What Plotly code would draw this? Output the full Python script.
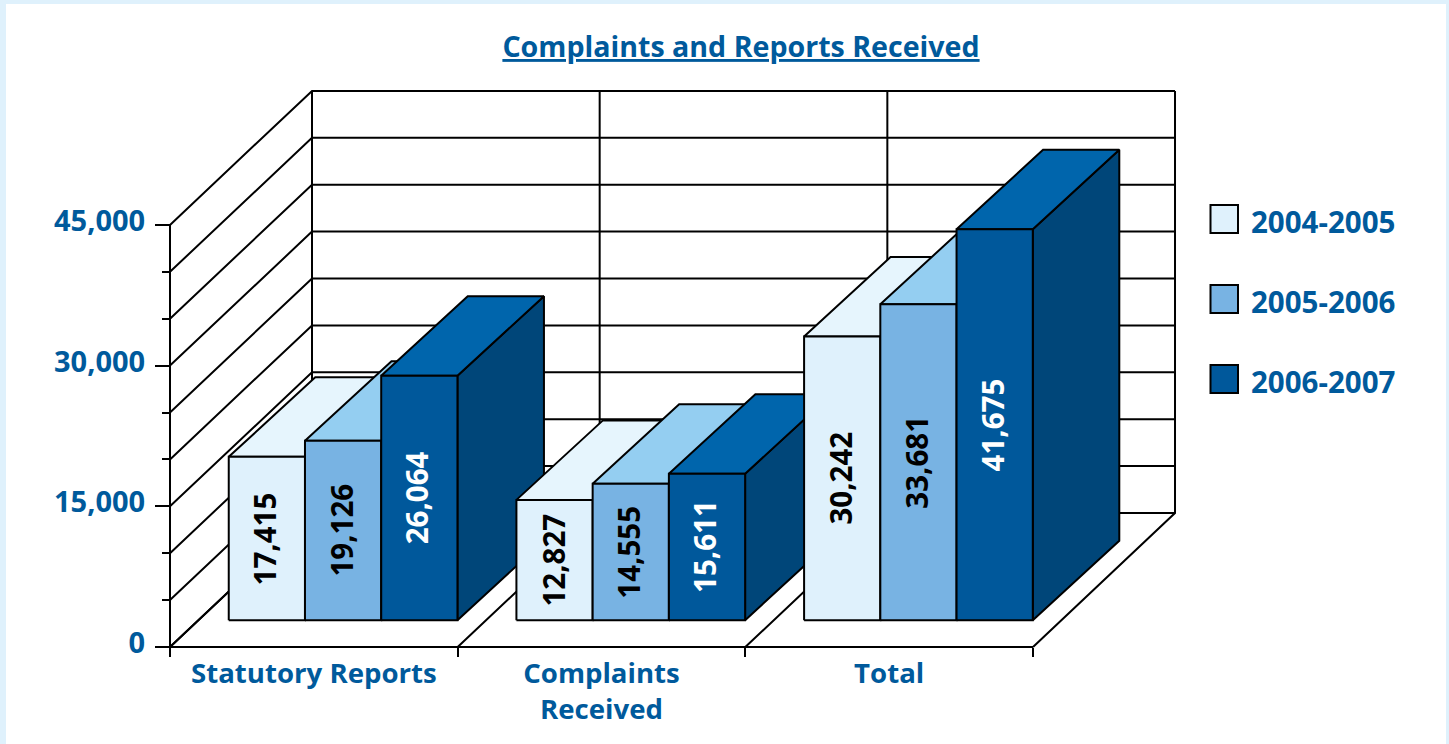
import plotly.graph_objects as go

CATEGORIES = ["Statutory Reports", "Complaints<br>Received", "Total"]
SERIES = ["2004-2005", "2005-2006", "2006-2007"]
V_2004 = [17415, 12827, 30242]
V_2005 = [19126, 14555, 33681]
V_2006 = [26064, 15611, 41675]
VALUES = [V_2004, V_2005, V_2006]
Y_MAJOR = [0, 15000, 30000, 45000]
Y_MINOR = [5000, 10000, 20000, 25000, 35000, 40000]

FRONT = ["#DFF1FC", "#78B3E3", "#00589B"]
TOP = ["#E6F5FD", "#94CEF1", "#0065AC"]
SIDE = ["#B4D6EE", "#4F8DC4", "#004679"]
LABEL = ["black", "black", "white"]
BLUE = "#005A9C"
FONT = "Open Sans"
W, H = 1449, 744
CAT_PX = 287.67
VAL_PX = 0.00938
DEPTH_X = 142 / CAT_PX
DEPTH_Y = 134 / VAL_PX
D0 = 0.2
BAR_DX = 86.5 / CAT_PX
BAR_DY = 79.5 / VAL_PX
BAR_W = 0.2650
BAR_GAP = 0.1055
ORIGIN_X, ORIGIN_Y = 170, 647


def proj(c, v, d=0.0):
    return c + d * DEPTH_X, v + d * DEPTH_Y


def front(c, v):
    return proj(c, v, D0)


def back(c, v):
    x, y = proj(c, v, D0)
    return x + BAR_DX, y + BAR_DY


def poly(points, fill, name, hover=None):
    xs, ys = zip(*points)
    return go.Scatter(x=list(xs) + [xs[0]], y=list(ys) + [ys[0]], mode="lines", fill="toself",
                      fillcolor=fill, line=dict(color="black", width=2), name=name,
                      showlegend=False, hoverinfo="text" if hover else "skip", text=hover)


fig = go.Figure()


def grid(points):
    xs, ys = zip(*(proj(*p) for p in points))
    fig.add_trace(go.Scatter(x=xs, y=ys, mode="lines", line=dict(color="black", width=2),
                             showlegend=False, hoverinfo="skip"))


levels = sorted(Y_MAJOR + Y_MINOR)
top_level = levels[-1]
for v in levels:
    grid([(0, v, 0), (0, v, 1), (len(CATEGORIES), v, 1)])
for c in range(len(CATEGORIES) + 1):
    grid([(c, 0, 0), (c, 0, 1), (c, top_level, 1)])
grid([(0, 0, 0), (0, top_level, 0)])
grid([(0, 0, 0), (len(CATEGORIES), 0, 0)])

annotations = []
for c in range(len(CATEGORIES)):
    for s in range(len(SERIES)):
        v = VALUES[s][c]
        x0 = c + BAR_GAP + s * BAR_W
        x1 = x0 + BAR_W
        hover = f"{CATEGORIES[c].replace('<br>', ' ')} {SERIES[s]}: {v:,}"
        fig.add_trace(poly([front(x1, 0), back(x1, 0), back(x1, v), front(x1, v)], SIDE[s], SERIES[s]))
        fig.add_trace(poly([front(x0, v), back(x0, v), back(x1, v), front(x1, v)], TOP[s], SERIES[s]))
        fig.add_trace(poly([front(x0, 0), front(x1, 0), front(x1, v), front(x0, v)], FRONT[s], SERIES[s], hover))
        ax, ay = front((x0 + x1) / 2, v / 2)
        annotations.append(dict(x=ax, y=ay, xref="x", yref="y", text=f"{v:,}", textangle=-90, xshift=-2,
                                showarrow=False, font=dict(family=FONT, size=29.5, color=LABEL[s], weight=700)))

shapes = [dict(type="rect", xref="paper", yref="paper", x0=6 / W, x1=1446 / W, y0=0, y1=1 - 4 / H,
               fillcolor="white", line_width=0, layer="below")]
for s, name in enumerate(SERIES):
    cy = 219 + 80 * s
    shapes.append(dict(type="rect", xref="paper", yref="paper", x0=1210.5 / W, x1=1238 / W,
                       y0=1 - (cy + 14) / H, y1=1 - (cy - 14) / H, fillcolor=FRONT[s],
                       line=dict(color="black", width=2)))
    annotations.append(dict(x=1249 / W, y=1 - (cy + 2) / H, xref="paper", yref="paper", xanchor="left",
                            yanchor="middle", text=name, showarrow=False,
                            font=dict(family=FONT, size=29.5, color=BLUE, weight=700)))

fig.update_layout(
    width=W, height=H, autosize=False, margin=dict(l=0, r=0, t=0, b=0, pad=0),
    paper_bgcolor="#DFF1FC", plot_bgcolor="rgba(0,0,0,0)", showlegend=False,
    font=dict(family=FONT, size=28, color=BLUE, weight=700),
    title=dict(text="<u>Complaints and Reports Received</u>", xref="paper", yref="paper",
               x=741 / W, y=1 - 47 / H, xanchor="center", yanchor="middle",
               font=dict(family=FONT, size=28.6, color=BLUE, weight=700)),
    xaxis=dict(range=[-ORIGIN_X / CAT_PX, (W - ORIGIN_X) / CAT_PX], domain=[0, 1], anchor="free",
               position=(H - ORIGIN_Y) / H, showgrid=False, zeroline=False, showline=False,
               tickmode="array", tickvals=[c + 0.5 for c in range(len(CATEGORIES))], ticktext=CATEGORIES,
               ticks="outside", ticklen=0, tickcolor="rgba(0,0,0,0)", ticklabelstandoff=2,
               tickfont=dict(family=FONT, size=27.6, color=BLUE, weight=700),
               minor=dict(tickmode="array", tickvals=list(range(len(CATEGORIES) + 1)), ticks="outside",
                          ticklen=9, tickwidth=2, tickcolor="black", showgrid=False)),
    yaxis=dict(range=[-(H - ORIGIN_Y) / VAL_PX, ORIGIN_Y / VAL_PX], domain=[0, 1], anchor="free",
               position=ORIGIN_X / W, showgrid=False, zeroline=False, showline=False,
               tickmode="array", tickvals=Y_MAJOR, ticktext=[f"{v:,}" for v in Y_MAJOR],
               ticks="outside", ticklen=15, tickwidth=2, tickcolor="black", ticklabelstandoff=4,
               ticklabelshift=-4, tickfont=dict(family=FONT, size=29, color=BLUE, weight=700),
               minor=dict(tickmode="array", tickvals=Y_MINOR, ticks="outside", ticklen=8, tickwidth=2,
                          tickcolor="black", showgrid=False)),
    shapes=shapes, annotations=annotations,
)

fig.write_html("out.html", config={"displayModeBar": False},
               post_script="document.body.style.margin='0';document.documentElement.style.overflow='hidden';")
